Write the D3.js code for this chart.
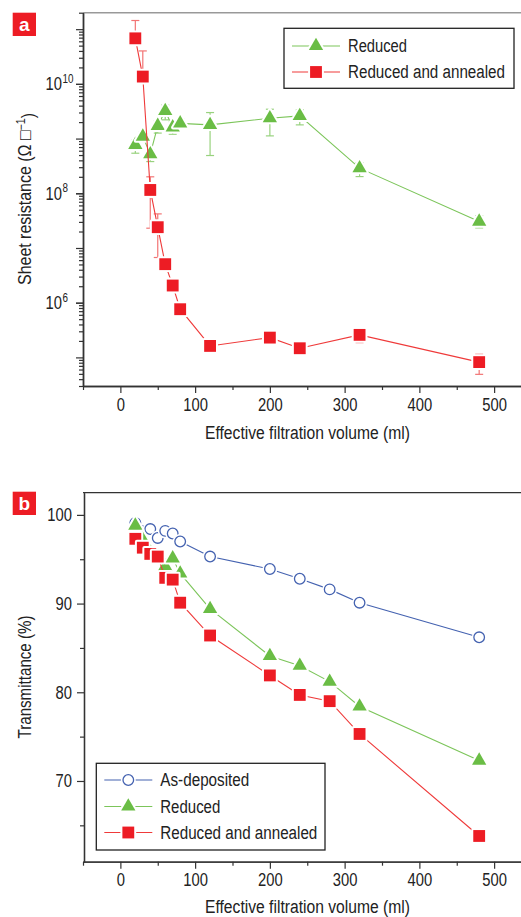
<!DOCTYPE html>
<html>
<head>
<meta charset="utf-8">
<script src="https://cdn.jsdelivr.net/npm/d3@7"></script>
<style>
  body { margin: 0; background: #fff; }
  svg { font-family: "Liberation Sans Narrow", "Liberation Sans", Arial, sans-serif; }
</style>
</head>
<body>
<svg width="521" height="917"></svg>
<script>
const width = 521;
const height = 917;

// panel a: sheet resistance
const volA = [20, 30, 40, 50, 60, 70, 80, 120, 200, 240, 320, 480];
const reducedA = [7.7e8, 1.09e9, 5.2e8, 1.71e9, 3.2e9, 1.61e9, 1.9e9, 1.78e9, 2.36e9, 2.6e9, 2.88e8, 3.04e7];
const reducedALow = [5.4e8, 9.1e8, 3.8e8, 1.26e9, 2.2e9, 1.2e9, 1.57e9, 4.9e8, 1.12e9, 1.78e9, 2.02e8, 2.33e7];
const reducedAHigh = [9.5e8, 1.32e9, 6.2e8, 2.1e9, 4.1e9, 2.02e9, 2.29e9, 2.99e9, 3.44e9, 3.35e9, 3.6e8, 3.9e7];
const annealedA = [6.8e10, 1.36e10, 1.15e8, 2.4e7, 5.06e6, 2.06e6, 7.6e5, 1.62e5, 2.3e5, 1.47e5, 2.58e5, 8.2e4];
const annealedALow = [6.8e10, 1.36e10, 2.3e7, 6.7e6, 5.06e6, 2.06e6, 7.6e5, 1.62e5, 2.3e5, 1.47e5, 1.86e5, 4.9e4];
const annealedAHigh = [1.44e11, 4.0e10, 2.0e8, 4.2e7, 5.06e6, 2.06e6, 7.6e5, 1.62e5, 2.3e5, 1.47e5, 3.28e5, 1.14e5];

// panel b: transmittance
const volDep = [20, 40, 50, 60, 70, 80, 120, 200, 240, 280, 320, 480];
const asDeposited = [99.1, 98.4, 97.4, 98.2, 97.9, 97.0, 95.3, 93.9, 92.8, 91.6, 90.1, 86.2];
const volB = [20, 30, 40, 50, 60, 70, 80, 120, 200, 240, 280, 320, 480];
const reducedB = [98.8, 97.2, 95.8, 95.3, 94.2, 95.1, 93.4, 89.4, 84.1, 83.0, 81.2, 78.4, 72.3];
const annealedB = [97.3, 96.3, 95.6, 95.3, 92.9, 92.7, 90.1, 86.4, 81.9, 79.7, 79.0, 75.3, 63.8];

const xTicks = [0, 100, 200, 300, 400, 500];
const xMinor = [-50, 50, 150, 250, 350, 450, 550];
const logLabels = [1e6, 1e8, 1e10];
const tTicks = [70, 80, 90, 100];
const tMinor = [65, 75, 85, 95];

const green = "#6abd45", greenLine = "#7cc55a", greenErr = "#98d27e";
const red = "#ed1c24", redLine = "#ef3a3a", redErr = "#f27474";
const blue = "#4462b0";

const svg = d3.select("svg");

// no condensed face installed, so squeeze glyphs to look like the narrow original
function squeeze(sel, k = 0.82) {
  sel.each(function () {
    const len = this.getComputedTextLength();
    d3.select(this).attr("textLength", len * k).attr("lengthAdjust", "spacingAndGlyphs");
  });
}
function fit(sel, w) {
  sel.attr("textLength", w).attr("lengthAdjust", "spacingAndGlyphs");
}

const left = 83;
const x = d3.scaleLinear().domain([-50, 550]).range([left, 531.5]);
const yA = d3.scaleLog().domain([3.0e4, 2.0e11]).range([386, 12.7]);
const yB = d3.scaleLinear().domain([60.9, 102.5]).range([861.7, 492.7]);

function styleAxis(g) {
  g.select(".domain").attr("stroke", "#333").attr("stroke-width", 1.3);
  g.selectAll(".tick line").attr("stroke", "#333").attr("stroke-width", 1.2);
  g.selectAll(".tick text").attr("font-size", 18).attr("fill", "#222");
}

function xAxis(yPos) {
  svg.append("g").attr("transform", `translate(0,${yPos})`)
    .call(d3.axisBottom(x).tickValues(xMinor).tickSize(4).tickSizeOuter(0).tickFormat(""))
    .call(styleAxis);
  svg.append("g").attr("transform", `translate(0,${yPos})`)
    .call(d3.axisBottom(x).tickValues(xTicks).tickSize(7).tickSizeOuter(0).tickPadding(5))
    .call(styleAxis)
    .call(g => squeeze(g.selectAll(".tick text")));
}

// ---------- panel a ----------
svg.append("line").attr("x1", left).attr("x2", width).attr("y1", 12.7).attr("y2", 12.7)
  .attr("stroke", "#999").attr("stroke-width", 1.5);
xAxis(386);

const minorLog = [];
const majorLog = [];
for (let e = 4; e <= 11; e++) {
  majorLog.push(Math.pow(10, e));
  for (let m = 2; m <= 9; m++) minorLog.push(m * Math.pow(10, e));
}
const inA = v => v >= yA.domain()[0] && v <= yA.domain()[1];

svg.append("g").attr("transform", `translate(${left},0)`)
  .call(d3.axisLeft(yA).tickValues(minorLog.filter(inA)).tickSize(4).tickSizeOuter(0).tickFormat(""))
  .call(styleAxis);
svg.append("g").attr("transform", `translate(${left},0)`)
  .call(d3.axisLeft(yA).tickValues(majorLog.filter(inA)).tickSize(7).tickSizeOuter(0).tickFormat(""))
  .call(styleAxis);
svg.append("g").attr("transform", `translate(${left},0)`)
  .call(d3.axisLeft(yA).tickValues(logLabels).tickSize(7).tickSizeOuter(0).tickPadding(14).tickFormat(() => "10"))
  .call(styleAxis)
  .call(g => squeeze(g.selectAll(".tick text")))
  .call(g => g.selectAll(".tick").append("text")
    .attr("x", -20.5).attr("y", -1.5)
    .attr("text-anchor", "start")
    .attr("font-size", 12).attr("fill", "#222")
    .text(d => Math.round(Math.log10(d)))
    .call(squeeze));

function errorBars(xs, low, high, y, color) {
  const g = svg.append("g").attr("stroke", color).attr("stroke-width", 1.2);
  xs.forEach((v, i) => {
    if (high[i] === low[i]) return;
    const cx = x(v);
    g.append("line").attr("x1", cx).attr("x2", cx).attr("y1", y(low[i])).attr("y2", y(high[i]));
    [low[i], high[i]].forEach(e => {
      g.append("line").attr("x1", cx - 4).attr("x2", cx + 4).attr("y1", y(e)).attr("y2", y(e));
    });
  });
}

const tri = d3.symbol(d3.symbolTriangle, 88)();
const sq = d3.symbol(d3.symbolSquare, 140)();

function series(xs, ys, y, kind, fill, lineColor) {
  const pts = xs.map((v, i) => [x(v), y(ys[i])]);
  svg.append("path")
    .attr("d", d3.line()(pts))
    .attr("fill", "none")
    .attr("stroke", lineColor)
    .attr("stroke-width", 1.1);
  const g = svg.append("g");
  pts.forEach(p => {
    if (kind === "circle") {
      g.append("circle").attr("cx", p[0]).attr("cy", p[1]).attr("r", 7.5).attr("fill", "#fff");
      g.append("circle").attr("cx", p[0]).attr("cy", p[1]).attr("r", 5.3)
        .attr("fill", "#fff").attr("stroke", fill).attr("stroke-width", 1.3);
    } else {
      const d = kind === "tri" ? tri : sq;
      const t = `translate(${p[0]},${p[1]})`;
      g.append("path").attr("d", d).attr("transform", t)
        .attr("fill", "#fff").attr("stroke", "#fff").attr("stroke-width", 4).attr("stroke-linejoin", "round");
      g.append("path").attr("d", d).attr("transform", t).attr("fill", fill);
    }
  });
}

errorBars(volA, reducedALow, reducedAHigh, yA, greenErr);
errorBars(volA, annealedALow, annealedAHigh, yA, redErr);
series(volA, reducedA, yA, "tri", green, greenLine);
series(volA, annealedA, yA, "sq", red, redLine);

function legend(x0, y0, w, h, items) {
  svg.append("rect").attr("x", x0).attr("y", y0).attr("width", w).attr("height", h)
    .attr("fill", "#fff").attr("stroke", "#222").attr("stroke-width", 1.3);
  items.forEach(it => {
    const g = svg.append("g").attr("transform", `translate(${x0},${it.y})`);
    g.append("line").attr("x1", 8).attr("x2", 56).attr("stroke", it.line).attr("stroke-width", 1.1);
    if (it.kind === "circle") {
      g.append("circle").attr("cx", 32).attr("r", 7.5).attr("fill", "#fff");
      g.append("circle").attr("cx", 32).attr("r", 5.3).attr("fill", "#fff")
        .attr("stroke", it.color).attr("stroke-width", 1.3);
    } else {
      const d = it.kind === "tri" ? tri : sq;
      g.append("path").attr("d", d).attr("transform", "translate(32,0)")
        .attr("fill", "#fff").attr("stroke", "#fff").attr("stroke-width", 4);
      g.append("path").attr("d", d).attr("transform", "translate(32,0)").attr("fill", it.color);
    }
    g.append("text").attr("x", 64).attr("dy", "0.36em").attr("font-size", 18).attr("fill", "#222")
      .text(it.label).call(fit, it.w);
  });
}

legend(284, 28.3, 230, 60, [
  { label: "Reduced", kind: "tri", color: green, line: greenLine, y: 46, w: 59 },
  { label: "Reduced and annealed", kind: "sq", color: red, line: redLine, y: 72, w: 157 }
]);

// ---------- panel b ----------
svg.append("line").attr("x1", left).attr("x2", width).attr("y1", 492.7).attr("y2", 492.7)
  .attr("stroke", "#333").attr("stroke-width", 1.3);
xAxis(861.7);

svg.append("g").attr("transform", `translate(${left + 1},0)`)
  .call(d3.axisLeft(yB).tickValues(tMinor).tickSize(4).tickSizeOuter(0).tickFormat(""))
  .call(styleAxis);
svg.append("g").attr("transform", `translate(${left + 1},0)`)
  .call(d3.axisLeft(yB).tickValues(tTicks).tickSize(7).tickSizeOuter(0).tickPadding(5))
  .call(styleAxis)
  .call(g => squeeze(g.selectAll(".tick text")));

series(volDep, asDeposited, yB, "circle", blue, blue);
series(volB, reducedB, yB, "tri", green, greenLine);
series(volB, annealedB, yB, "sq", red, redLine);

legend(96.3, 763.3, 228.7, 86.7, [
  { label: "As-deposited", kind: "circle", color: blue, line: blue, y: 780, w: 89 },
  { label: "Reduced", kind: "tri", color: green, line: greenLine, y: 806.5, w: 60 },
  { label: "Reduced and annealed", kind: "sq", color: red, line: redLine, y: 832.5, w: 157 }
]);

// axis titles
svg.append("text").attr("x", 307.5).attr("y", 439).attr("text-anchor", "middle")
  .attr("font-size", 18).attr("fill", "#222").text("Effective filtration volume (ml)").call(fit, 205);
svg.append("text").attr("x", 307.5).attr("y", 913).attr("text-anchor", "middle")
  .attr("font-size", 18).attr("fill", "#222").text("Effective filtration volume (ml)").call(fit, 205);

const ttlA = svg.append("text").attr("transform", "translate(31,199) rotate(-90)")
  .attr("text-anchor", "middle").attr("font-size", 18).attr("fill", "#222");
ttlA.append("tspan").text("Sheet resistance (\u03a9 \u25a1");
ttlA.append("tspan").attr("dy", "-0.5em").attr("font-size", 12).text("\u22121");
ttlA.append("tspan").attr("dy", "0.5em").text(")");
ttlA.call(fit, 172);

svg.append("text").attr("transform", "translate(31,677) rotate(-90)")
  .attr("text-anchor", "middle").attr("font-size", 18).attr("fill", "#222")
  .text("Transmittance (%)").call(fit, 123);

// panel letters
[["a", 12.7], ["b", 491.7]].forEach(([t, y0]) => {
  svg.append("rect").attr("x", 12.7).attr("y", y0).attr("width", 23.3).attr("height", 23.3).attr("fill", red);
  svg.append("text").attr("x", 24.3).attr("y", y0 + 18.5).attr("text-anchor", "middle")
    .attr("font-family", "Liberation Sans, Arial, sans-serif")
    .attr("font-weight", "bold").attr("font-size", 19).attr("fill", "#fff").text(t);
});
</script>
</body>
</html>
